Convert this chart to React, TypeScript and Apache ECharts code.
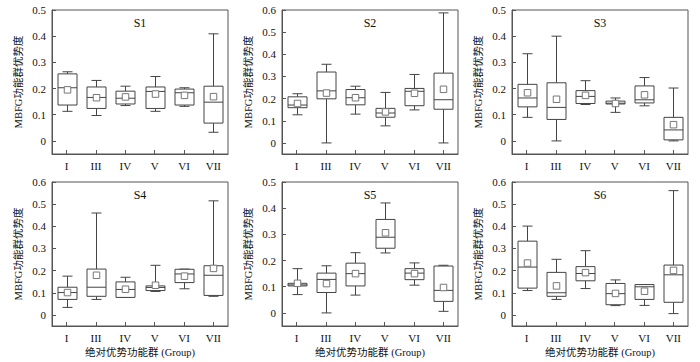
import React, { useEffect, useRef } from "react";
import * as echarts from "echarts";

const categories = ["I", "III", "IV", "V", "VI", "VII"];
const panelTitles = ["S1", "S2", "S3", "S4", "S5", "S6"];
const yMaxes = [0.5, 0.6, 0.5, 0.6, 0.5, 0.6];
const yTicks05 = [0, 0.1, 0.2, 0.3, 0.4, 0.5];
const yTicks06 = [0, 0.1, 0.2, 0.3, 0.4, 0.5, 0.6];
const yAxisName = "MBFG功能群优势度";
const xAxisName = "绝对优势功能群 (Group)";

// [low, Q1, median, Q3, high]
const s1Box = [
  [0.113, 0.137, 0.203, 0.256, 0.264],
  [0.097, 0.124, 0.166, 0.206, 0.231],
  [0.135, 0.141, 0.163, 0.19, 0.209],
  [0.113, 0.124, 0.189, 0.206, 0.246],
  [0.132, 0.137, 0.184, 0.198, 0.203],
  [0.033, 0.068, 0.148, 0.209, 0.409],
];
const s1Mean = [0.195, 0.165, 0.168, 0.179, 0.174, 0.169];

const s2Box = [
  [0.127, 0.159, 0.171, 0.208, 0.222],
  [0.0, 0.199, 0.235, 0.32, 0.355],
  [0.13, 0.172, 0.204, 0.241, 0.256],
  [0.077, 0.116, 0.135, 0.156, 0.228],
  [0.149, 0.168, 0.233, 0.246, 0.309],
  [0.0, 0.152, 0.195, 0.315, 0.587],
];
const s2Mean = [0.178, 0.225, 0.204, 0.14, 0.224, 0.242];

const s3Box = [
  [0.09, 0.13, 0.164, 0.216, 0.333],
  [0.0, 0.082, 0.128, 0.222, 0.4],
  [0.139, 0.143, 0.17, 0.192, 0.23],
  [0.109, 0.141, 0.144, 0.152, 0.164],
  [0.134, 0.145, 0.157, 0.21, 0.242],
  [0.0, 0.004, 0.042, 0.09, 0.202],
];
const s3Mean = [0.184, 0.159, 0.174, 0.143, 0.176, 0.062];

const s4Box = [
  [0.034, 0.07, 0.101, 0.125, 0.175],
  [0.07, 0.084, 0.125, 0.207, 0.46],
  [0.079, 0.079, 0.115, 0.149, 0.17],
  [0.106, 0.11, 0.124, 0.131, 0.224],
  [0.118, 0.146, 0.185, 0.206, 0.207],
  [0.084, 0.088, 0.179, 0.222, 0.515],
];
const s4Mean = [0.101, 0.179, 0.116, 0.134, 0.175, 0.21];

const s5Box = [
  [0.07, 0.103, 0.107, 0.113, 0.169],
  [0.0, 0.078, 0.128, 0.152, 0.18],
  [0.068, 0.103, 0.15, 0.19, 0.23],
  [0.229, 0.247, 0.289, 0.357, 0.42],
  [0.106, 0.127, 0.152, 0.169, 0.191],
  [0.006, 0.044, 0.086, 0.179, 0.182],
];
const s5Mean = [0.113, 0.112, 0.15, 0.306, 0.15, 0.097];

const s6Box = [
  [0.11, 0.121, 0.216, 0.333, 0.401],
  [0.07, 0.084, 0.1, 0.192, 0.251],
  [0.119, 0.154, 0.187, 0.218, 0.29],
  [0.042, 0.046, 0.096, 0.142, 0.158],
  [0.043, 0.07, 0.127, 0.137, 0.137],
  [0.006, 0.057, 0.181, 0.225, 0.561],
];
const s6Mean = [0.234, 0.131, 0.191, 0.097, 0.107, 0.201];

const boxes = [s1Box, s2Box, s3Box, s4Box, s5Box, s6Box];
const means = [s1Mean, s2Mean, s3Mean, s4Mean, s5Mean, s6Mean];

const SERIF = "'Liberation Serif', 'Times New Roman', 'Noto Sans CJK SC', serif";
const LINE = "#444";
const TEXT = "#111";

const gridPos = [
  { left: 52, top: 10 },
  { left: 282, top: 10 },
  { left: 512, top: 10 },
  { left: 52, top: 182 },
  { left: 282, top: 182 },
  { left: 512, top: 182 },
];
const GW = 176;
const GH = 144;

function renderItem(params: any, api: any) {
  const idx = api.value(0);
  const low = api.coord([idx, api.value(1)]);
  const q1 = api.coord([idx, api.value(2)]);
  const med = api.coord([idx, api.value(3)]);
  const q3 = api.coord([idx, api.value(4)]);
  const high = api.coord([idx, api.value(5)]);
  const mean = api.coord([idx, api.value(6)]);
  const band = api.size([1, 0])[0];
  const bw = Math.round(band * 0.65);
  const cw = Math.round(bw * 0.5);
  const x = Math.round(low[0]) + 0.5;
  const st = { stroke: LINE, lineWidth: 1, fill: null };
  const ms = 6.5;
  return {
    type: "group",
    children: [
      { type: "line", shape: { x1: x, y1: high[1], x2: x, y2: q3[1] }, style: st },
      { type: "line", shape: { x1: x, y1: q1[1], x2: x, y2: low[1] }, style: st },
      { type: "line", shape: { x1: x - cw / 2, y1: high[1], x2: x + cw / 2, y2: high[1] }, style: st },
      { type: "line", shape: { x1: x - cw / 2, y1: low[1], x2: x + cw / 2, y2: low[1] }, style: st },
      {
        type: "rect",
        shape: { x: x - bw / 2, y: q3[1], width: bw, height: q1[1] - q3[1] },
        style: { stroke: LINE, lineWidth: 1, fill: "#fff" },
      },
      { type: "line", shape: { x1: x - bw / 2, y1: med[1], x2: x + bw / 2, y2: med[1] }, style: st },
      {
        type: "rect",
        shape: { x: x - ms / 2, y: mean[1] - ms / 2, width: ms, height: ms },
        style: { stroke: "#777", lineWidth: 1, fill: "#fff" },
      },
    ],
  };
}

export default function App() {
  const ref = useRef<HTMLDivElement>(null);
  useEffect(() => {
    if (!ref.current) return;
    document.body.style.margin = "0";
    const chart = echarts.init(ref.current, undefined, { renderer: "svg" });
    const grids = gridPos.map((g) => ({
      left: g.left,
      top: g.top,
      width: GW,
      height: GH,
      show: true,
      borderColor: "#555",
      borderWidth: 1,
      backgroundColor: "transparent",
      containLabel: false,
    }));
    const xAxes = gridPos.map((_, i) => ({
      gridIndex: i,
      type: "category",
      position: "bottom",
      data: categories,
      boundaryGap: true,
      axisLine: { show: true, onZero: false, lineStyle: { color: "#555", width: 1 } },
      axisTick: { show: true, inside: true, alignWithLabel: true, length: 4, lineStyle: { color: "#555" } },
      axisLabel: { margin: 6, fontFamily: SERIF, fontSize: 11, color: TEXT },
      splitLine: { show: false },
      name: i >= 3 ? xAxisName : "",
      nameLocation: "middle",
      nameGap: 21,
      nameTextStyle: { fontFamily: SERIF, fontSize: 10.5, color: TEXT },
    }));
    const yAxes = gridPos.map((_, i) => {
      const ticks = yMaxes[i] > 0.55 ? yTicks06 : yTicks05;
      return {
        gridIndex: i,
        type: "value",
        min: -0.05,
        max: yMaxes[i],
        axisLine: { show: true, onZero: false, lineStyle: { color: "#555", width: 1 } },
        splitLine: { show: false },
        axisTick: { show: true, inside: true, length: 4, customValues: ticks, lineStyle: { color: "#555" } },
        axisLabel: {
          customValues: ticks,
          formatter: (v: number) => String(Math.round(v * 10) / 10),
          margin: 6,
          fontFamily: SERIF,
          fontSize: 11,
          color: TEXT,
        },
        name: yAxisName,
        nameLocation: "middle",
        nameRotate: 90,
        nameGap: 28,
        nameTextStyle: { fontFamily: SERIF, fontSize: 10.5, color: TEXT },
      };
    });
    const series = boxes.map((b, i) => ({
      type: "custom",
      xAxisIndex: i,
      yAxisIndex: i,
      renderItem,
      encode: { x: 0, y: [1, 2, 3, 4, 5, 6] },
      data: b.map((row, k) => [k, row[0], row[1], row[2], row[3], row[4], means[i][k]]),
      silent: true,
    }));
    const graphic = gridPos.map((g, i) => ({
      type: "text",
      x: g.left + GW / 2,
      y: g.top + 13,
      style: {
        text: panelTitles[i],
        textAlign: "center",
        textVerticalAlign: "middle",
        fontFamily: SERIF,
        fontSize: 12,
        fill: TEXT,
      },
    }));
    chart.setOption({
      animation: false,
      backgroundColor: "#fff",
      grid: grids,
      xAxis: xAxes,
      yAxis: yAxes,
      series,
      graphic,
    } as any);
    return () => chart.dispose();
  }, []);
  return (
    <div
      ref={ref}
      style={{ position: "absolute", left: 0, top: 0, width: 700, height: 362 }}
    />
  );
}
